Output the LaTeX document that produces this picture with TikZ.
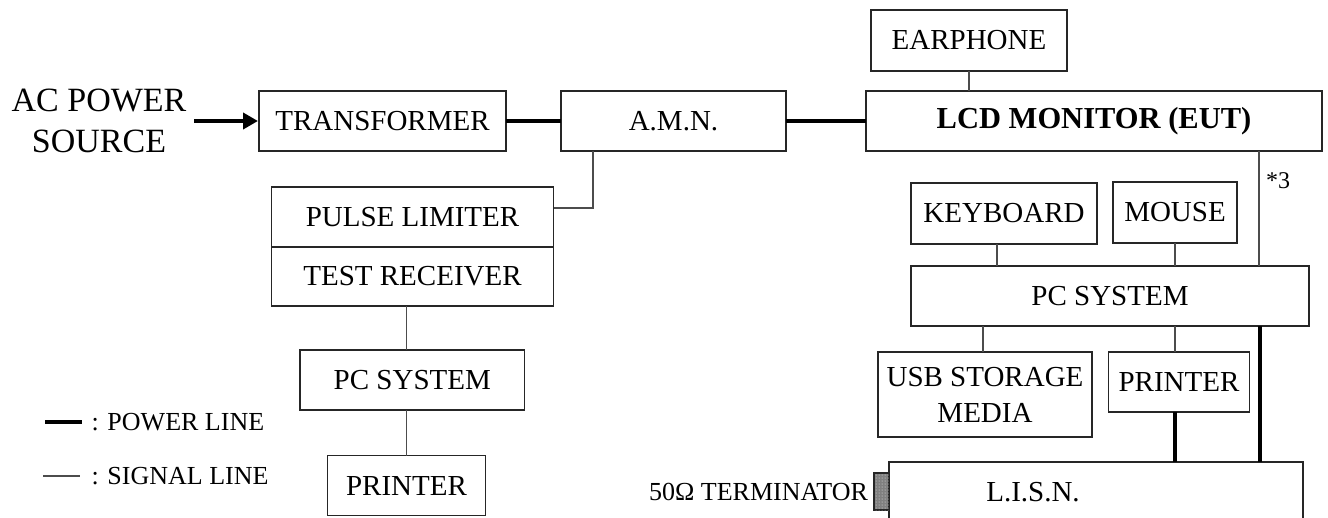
\documentclass[tikz,border=0pt]{standalone}
\usepackage{fontspec}
\setmainfont{Liberation Serif}
\usetikzlibrary{arrows.meta,patterns}
\begin{document}
\begin{tikzpicture}[x=1pt,y=-1pt,
  box/.style={draw=black!85,line width=1.2pt,inner sep=0pt,outer sep=0pt,rectangle,
     align=center,font=\fontsize{29}{36}\selectfont},
  signal/.style={draw=black!70,line width=1.1pt},
  power/.style={draw=black,line width=3.8pt},
  lbl/.style={inner sep=0pt,outer sep=0pt,font=\fontsize{26}{31}\selectfont}]
\useasboundingbox (0,0) rectangle (1328,517);
\clip (0,0) rectangle (1328,517);
% nodes
\node[inner sep=0pt,outer sep=0pt,align=center,inner xsep=8pt,font=\fontsize{34}{41}\selectfont] (acsrc) at (99,121) {AC POWER\\SOURCE};
\node[box,minimum width=247,minimum height=60] (trans) at (382.5,121) {TRANSFORMER};
\node[box,minimum width=225,minimum height=60] (amn) at (673.5,121) {A.M.N.};
\node[box,minimum width=456,minimum height=60] (lcd) at (1094,121) {\bfseries\fontsize{30.5}{36}\selectfont LCD MONITOR (EUT)};
\node[box,minimum width=196,minimum height=61] (ear) at (969,40.5) {EARPHONE};
\node[box,minimum width=282,minimum height=60] (pl) at (412.5,217) {PULSE LIMITER};
\node[box,minimum width=282,minimum height=59] (tr) at (412.5,276.5) {TEST RECEIVER};
\node[box,minimum width=224.6,minimum height=60] (lpc) at (412.3,380) {PC SYSTEM};
\node[box,minimum width=158,minimum height=60] (lprn) at (406.5,485.5) {PRINTER};
\node[box,minimum width=186,minimum height=61] (kb) at (1004,213.5) {KEYBOARD};
\node[box,minimum width=124,minimum height=61] (mouse) at (1175,212.5) {MOUSE};
\node[box,minimum width=398,minimum height=60] (rpc) at (1110,296) {PC SYSTEM};
\node[box,minimum width=214,minimum height=85] (usb) at (985,394.5) {USB STORAGE\\MEDIA};
\node[box,minimum width=141.5,minimum height=60] (rprn) at (1179,382) {PRINTER};
\node[box,minimum width=414,minimum height=100] (lisn) at (1096,512) {};
\node[lbl,font=\fontsize{29}{35}\selectfont] (lisntxt) at (1033,492) {L.I.S.N.};
\node[draw=black!85,line width=1.2pt,fill=gray,minimum width=15,minimum height=37,inner sep=0pt,outer sep=0pt,
  postaction={pattern=dots,pattern color=white!85!gray}] (term) at (881.5,491.5) {};
\node[lbl,anchor=east] (termtxt) at (868,492) {50Ω TERMINATOR};
\node[lbl,anchor=west,font=\fontsize{24}{28}\selectfont] (star) at (1266,181) {*3};
\node[lbl,anchor=west] (ptxt) at (91.6,422) {: POWER LINE};
\node[lbl,anchor=west] (stxt) at (91.6,476) {: SIGNAL LINE};
% power connectors
\draw[power,-{Triangle[length=15pt,width=16pt]},shorten >=1pt] (acsrc.east) -- (trans.west);
\draw[power] (trans.east) -- (amn.west);
\draw[power] (amn.east) -- (lcd.west);
\draw[power] ([xshift=-4]rprn.south) -- ([xshift=-4]rprn.south |- lisn.north);
\draw[power] ([xshift=150]rpc.south) -- ([xshift=150]rpc.south |- lisn.north);
% signal connectors
\draw[signal] (ear.south) -- (ear.south |- lcd.north);
\draw[signal] ([xshift=-80.5]amn.south) |- ([yshift=9]pl.east);
\draw[signal] (lprn.north |- tr.south) -- (lprn.north |- lpc.north);
\draw[signal] (lprn.north |- lpc.south) -- (lprn.north);
\draw[signal] ([xshift=-7]kb.south) -- ([xshift=-7]kb.south |- rpc.north);
\draw[signal] (mouse.south) -- (mouse.south |- rpc.north);
\draw[signal] ([xshift=165]lcd.south) -- ([xshift=165]lcd.south |- rpc.north);
\draw[signal] ([xshift=-2]usb.north |- rpc.south) -- ([xshift=-2]usb.north);
\draw[signal] ([xshift=-4]rprn.north |- rpc.south) -- ([xshift=-4]rprn.north);
% legend
\draw[power,line width=3.5pt] ([xshift=-46.6]ptxt.west) -- ([xshift=-9.6]ptxt.west);
\draw[signal] ([xshift=-48.6]stxt.west) -- ([xshift=-11.6]stxt.west);
\end{tikzpicture}
\end{document}
